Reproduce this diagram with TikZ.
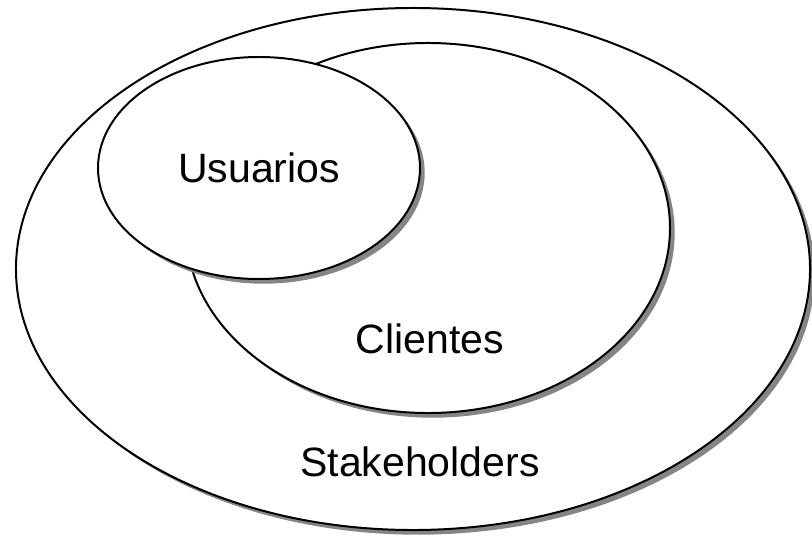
\documentclass[tikz,border=0pt]{standalone}
\usepackage{fontspec}
\setmainfont{Liberation Sans}
\usetikzlibrary{
  shapes.geometric,
  shadows
}
\definecolor{shadowGray}{rgb}{0.52,0.52,0.52}
\tikzset{
  set/.style={
    ellipse,
    draw,
    line width=1.7pt,
    fill=white,
    inner sep=0pt,
    drop shadow={shadow xshift=4pt, shadow yshift=-4pt,
      fill=shadowGray, opacity=1}
  },
  setname/.style={
    font=\fontsize{35}{40}\selectfont
  }
}
\begin{document}
\begin{tikzpicture}[x=0.03cm, y=-0.03cm]
  \useasboundingbox (0,0) rectangle (812,539);

  % outer to inner
  \node[set, minimum width=23.82cm, minimum height=15.66cm] (stk) at (413,269) {};
  \node[set, minimum width=14.52cm, minimum height=11.1cm] (cli) at (428,228) {};
  \node[set, minimum width=9.66cm, minimum height=6.66cm] (usu) at (259,168) {};

  \node[setname] (usuName) at (usu.center) {Usuarios};
  \node[setname] (cliName) at (430,339) {Clientes};
  \node[setname] (stkName) at (420,462) {Stakeholders};
\end{tikzpicture}
\end{document}
